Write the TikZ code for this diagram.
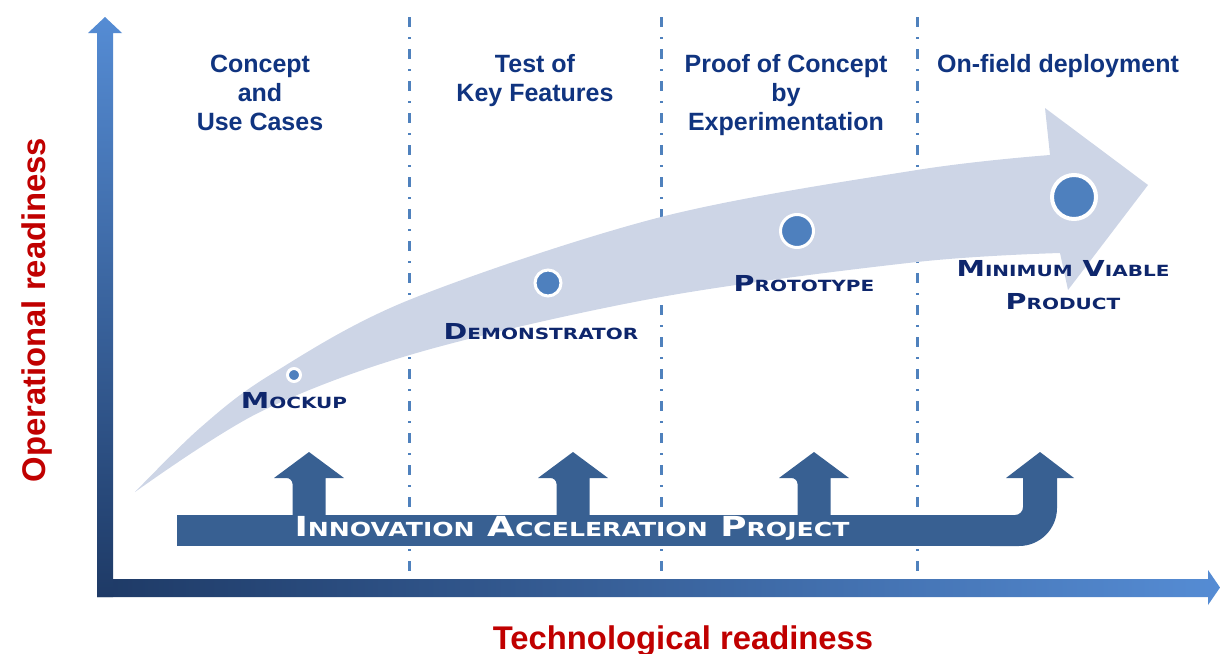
\documentclass[tikz,border=0pt]{standalone}
\usepackage{fontspec}
\setmainfont{Liberation Sans}
\newfontfamily\platefont[FakeStretch=1.3]{DejaVu Sans}
\usepackage{graphicx}
\usepackage{tikz}
\usetikzlibrary{positioning}

\definecolor{axisdark}{RGB}{30,58,102}
\definecolor{axislight}{RGB}{85,140,212}
\definecolor{phaseline}{RGB}{79,129,189}
\definecolor{headblue}{RGB}{16,52,128}
\definecolor{labelnavy}{RGB}{14,38,108}
\definecolor{bandgrey}{RGB}{205,213,230}
\definecolor{iapblue}{RGB}{56,96,146}
\definecolor{dotblue}{RGB}{78,128,190}
\definecolor{axisred}{RGB}{192,0,0}

% capital followed by smaller capitals
\newcommand{\capsc}[2]{#1\scalebox{0.7}{#2}}

\tikzstyle{phase}=[draw=phaseline, line width=1.5pt, dash pattern=on 5pt off 5pt on 1pt off 5pt]
\tikzstyle{heading}=[text=headblue, font=\bfseries\fontsize{12.5}{14.5}\selectfont, align=center, anchor=base, inner sep=0pt]
\tikzstyle{milestone}=[circle, fill=dotblue, draw=white, line width=1.5pt, inner sep=0pt]
\tikzstyle{stage}=[text=labelnavy, font=\platefont\bfseries\fontsize{11}{16.5}\selectfont, align=center, anchor=base, inner sep=0pt]
\tikzstyle{axislabel}=[text=axisred, font=\bfseries\fontsize{16.4}{19}\selectfont, anchor=base, inner sep=0pt]

\begin{document}
\begin{tikzpicture}[x=0.5pt, y=-0.5pt]
    \useasboundingbox (0,0) rectangle (1220,653);

    % Phase separators:
    \foreach \x in {409,661,917}
        \draw[phase] (\x,17) -- (\x,579);

    % Axes:
    \shade[left color=axisdark, right color=axislight] (97,579) -- (1208,579) -- (1208,570) -- (1220,587.5) -- (1208,605) -- (1208,597) -- (97,597) -- cycle;
    \shade[top color=axislight, bottom color=axisdark] (97,597) -- (97,33) -- (88,33) -- (105,17) -- (122,33) -- (113,33) -- (113,597) -- cycle;

    % Readiness path:
    \fill[bandgrey] plot[smooth, tension=0.55] coordinates {(135,492) (200,428) (270,375) (409,300) (661,217) (917,170) (1050,155)}
        -- (1045,108) -- (1148,185) -- (1068,290) -- (1060,253)
        -- plot[smooth, tension=0.55] coordinates {(1060,253) (917,262) (661,297) (420,352) (260,412) (135,492)} -- cycle;

    % Innovation Acceleration Project:
    \fill[iapblue] (177,515) rectangle (1000,546);
    \foreach \c in {309,573,814}
        \fill[iapblue] (\c-16.5,520) [rounded corners=3pt] -- (\c-16.5,478) [sharp corners] -- (\c-35,478) -- (\c,452) -- (\c+35,478) -- (\c+16.5,478) -- (\c+16.5,520) -- cycle;
    \fill[iapblue] (990,546) -- (1019,546) .. controls (1040,546) and (1057,529) .. (1057,508) -- (1057,478) -- (1074,478) -- (1040,452) -- (1006,478) -- (1023,478) -- (1023,507) .. controls (1023,511.4) and (1019.4,515) .. (1015,515) -- (990,515) -- cycle;
    \node[stage, text=white, font=\platefont\bfseries\fontsize{13.8}{15}\selectfont] (iap) at (572,536) {\capsc{I}{NNOVATION} \capsc{A}{CCELERATION} \capsc{P}{ROJECT}};

    % Milestones:
    \node[milestone, minimum size=6.5pt] (mockup) at (294,375) {};
    \node[milestone, minimum size=13pt] (demo) at (548,283) {};
    \node[milestone, minimum size=16.5pt] (proto) at (797,231) {};
    \node[milestone, minimum size=22pt, line width=2pt] (mvp) at (1074,197) {};

    \node[stage] (mockuptext) at (294,408) {\capsc{M}{OCKUP}};
    \node[stage] (demotext) at (541,339) {\capsc{D}{EMONSTRATOR}};
    \node[stage] (prototext) at (804,291) {\capsc{P}{ROTOTYPE}};
    \node[stage] (mvptext) at (1063,309) {\capsc{M}{INIMUM} \capsc{V}{IABLE}\\\capsc{P}{RODUCT}};

    % Phases:
    \node[heading] (concept) at (260,130) {Concept\\and\\Use Cases};
    \node[heading] (keyfeat) at (535,101) {Test of\\Key Features};
    \node[heading] (poc) at (786,130) {Proof of Concept\\by\\Experimentation};
    \node[heading] (field) at (1058,72) {On-field deployment};

    % Axis labels:
    \node[axislabel] (techready) at (683,649) {Technological readiness};
    \node[axislabel, rotate=90] (opready) at (45,310) {Operational readiness};
\end{tikzpicture}
\end{document}
